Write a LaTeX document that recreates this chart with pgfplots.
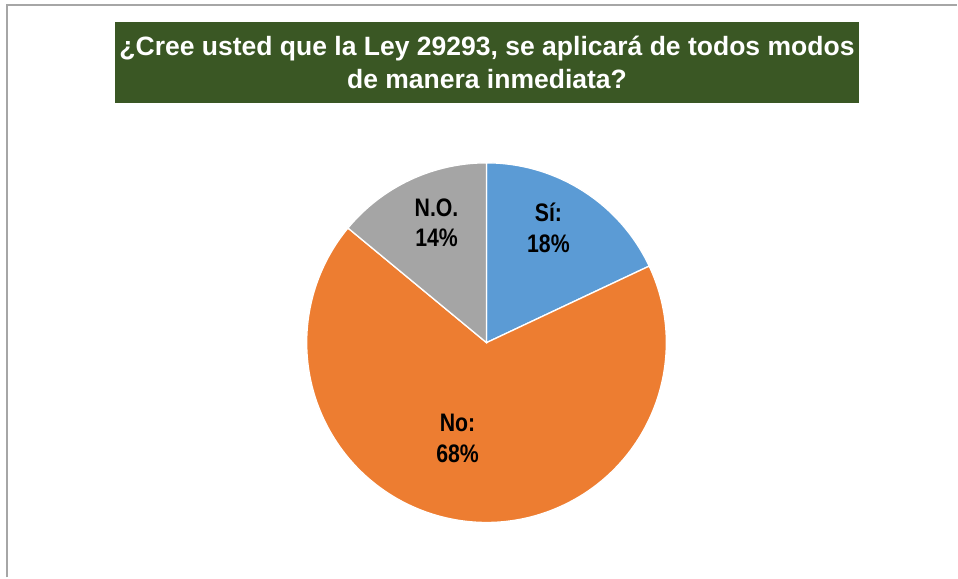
\documentclass[border=0pt]{standalone}
\usepackage{fontspec}
\setmainfont{Liberation Sans}
\newfontfamily\lblfont[FakeStretch=0.84]{Liberation Sans}
\usepackage{pgfplots}
\pgfplotsset{compat=1.18}
\definecolor{titlegreen}{HTML}{3A5724}
\definecolor{siblue}{HTML}{5B9BD5}
\definecolor{noorange}{HTML}{ED7D31}
\definecolor{nogray}{HTML}{A5A5A5}
\definecolor{framegray}{HTML}{A6A6A6}

% shares (%), clockwise from 12 o'clock
\def\vSi{18}
\def\vNo{68}
\def\vNO{14}
\pgfmathsetmacro\aA{90-3.6*\vSi}
\pgfmathsetmacro\aB{\aA-3.6*\vNo}
\pgfmathsetmacro\aC{\aB-3.6*\vNO}

\begin{document}
\begin{tikzpicture}
\begin{axis}[x=0.75pt, y=0.75pt, xmin=0, xmax=958, ymin=0, ymax=578,
  scale only axis, hide axis, clip=false]
\path (axis cs:0,0) rectangle (axis cs:958,578);
% frame
\draw[framegray, line width=1.5pt] (axis cs:7.5,0) -- (axis cs:7.5,572.5) -- (axis cs:958,572.5);
% title box
\fill[titlegreen] (axis cs:115,475) rectangle (axis cs:860,556);
\node[text=white, font=\fontsize{19.9}{24.75}\selectfont\bfseries, align=center]
  at (axis cs:487.5,516) {¿Cree usted que la Ley 29293, se aplicará de todos modos\\de manera inmediata?};
% pie
\fill[siblue, draw=white, line width=1pt] (axis cs:487,235) -- ++(90:135pt) arc[start angle=90, end angle=\aA, radius=135pt] -- cycle;
\fill[noorange, draw=white, line width=1pt] (axis cs:487,235) -- ++(\aA:135pt) arc[start angle=\aA, end angle=\aB, radius=135pt] -- cycle;
\fill[nogray, draw=white, line width=1pt] (axis cs:487,235) -- ++(\aB:135pt) arc[start angle=\aB, end angle=\aC, radius=135pt] -- cycle;
% labels
\node[font=\fontsize{19}{23}\selectfont\lblfont\bfseries, align=center] at (axis cs:549,350) {Sí:\\18\%};
\node[font=\fontsize{19}{23}\selectfont\lblfont\bfseries, align=center] at (axis cs:437,355) {N.O.\\14\%};
\node[font=\fontsize{19}{23}\selectfont\lblfont\bfseries, align=center] at (axis cs:458,139) {No:\\68\%};
\end{axis}
\end{tikzpicture}
\end{document}
